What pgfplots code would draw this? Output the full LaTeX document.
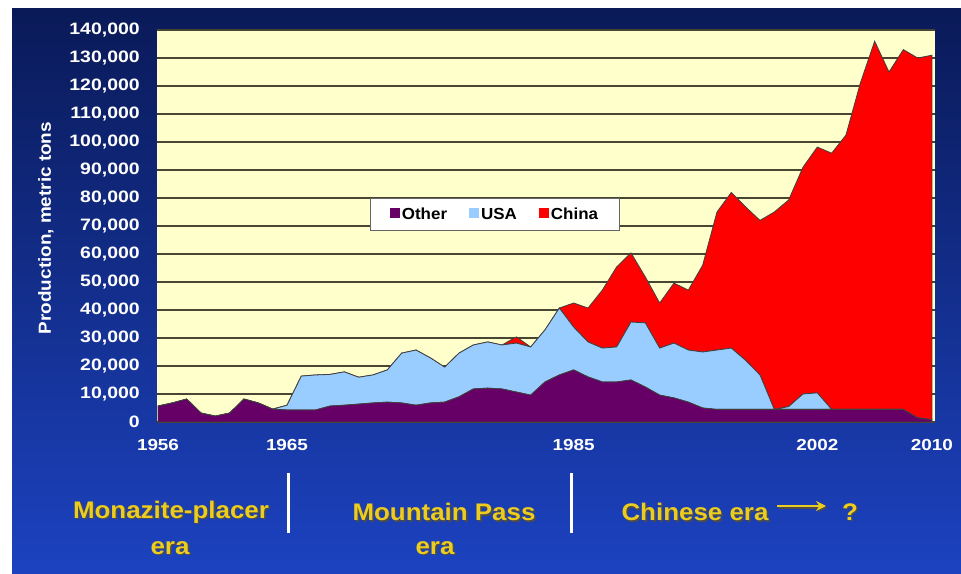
\documentclass[border=0pt]{standalone}
\usepackage{fontspec}
\setmainfont{Liberation Sans}
\newfontfamily\tickfont[FakeStretch=1.18]{Liberation Sans}
\newfontfamily\erafont[FakeStretch=1.08]{Liberation Sans}
\newfontfamily\legfont[FakeStretch=1.06]{Liberation Sans}
\usepackage{pgfplots}
\usepackage{pgfplotstable}
\pgfplotsset{compat=1.18}
\usetikzlibrary{arrows.meta}

\definecolor{bgtop}{RGB}{10,26,88}
\definecolor{bgmid}{RGB}{20,52,160}
\definecolor{bgbot}{RGB}{28,66,192}
\definecolor{plotbg}{RGB}{255,255,204}
\definecolor{gridc}{RGB}{70,70,50}
\definecolor{otherc}{RGB}{102,0,102}
\definecolor{usac}{RGB}{153,204,255}
\definecolor{chinac}{RGB}{255,0,0}
\definecolor{erac}{RGB}{236,204,28}

% rare earth production, metric tons
\pgfplotstableread{
year other usa china
1956 5700 0 0
1957 6800 0 0
1958 8200 0 0
1959 3200 0 0
1960 2100 0 0
1961 3200 0 0
1962 8200 0 0
1963 6800 0 0
1964 4600 0 0
1965 4300 1700 0
1966 4300 12100 0
1967 4300 12500 0
1968 5700 11300 0
1969 6000 11900 0
1970 6400 9600 0
1971 6800 10000 0
1972 7100 11500 0
1973 6800 17800 0
1974 6000 19700 0
1975 6800 16100 0
1976 7100 12500 0
1977 9000 15600 0
1978 11800 15700 0
1979 12100 16500 0
1980 11800 15700 0
1981 10700 17500 2200
1982 9600 17200 0
1983 14300 18600 0
1984 16800 23900 0
1985 18600 15300 8600
1986 16100 12500 12100
1987 14300 12100 20700
1988 14300 12500 28600
1989 15000 20700 24700
1990 12500 22900 16400
1991 9600 16800 16100
1992 8600 19600 21400
1993 7100 18600 21400
1994 5000 20000 31000
1995 4500 21200 49300
1996 4500 21900 55600
1997 4500 17500 54800
1998 4500 12300 55200
1999 4500 0 70500
2000 4500 1000 73800
2001 4500 5500 81000
2002 4500 5900 87800
2003 4500 0 91500
2004 4500 0 98000
2005 4500 0 116500
2006 4500 0 131500
2007 4500 0 120500
2008 4500 0 128500
2009 1500 0 128500
2010 800 0 130200
}\prodtable

\begin{document}
\begin{tikzpicture}
% page and slide background
\fill[white] (0pt,0pt) rectangle (961pt,573pt);
\shade[top color=bgtop, middle color=bgmid, bottom color=bgbot]
    (12pt,0pt) rectangle (961pt,564pt);

\begin{axis}[
    at={(157pt,151pt)}, anchor=south west,
    scale only axis,
    width=778pt, height=393pt,
    xmin=1955.93, xmax=2010.21,
    ymin=0, ymax=140360,
    stack plots=y,
    axis line style={draw=none},
    axis background/.style={fill=plotbg},
    major tick length=0pt,
    xtick={1956,1965,1985,2002,2010},
    xticklabels={1956,1965,1985,2002,2010},
    ytick={0,10000,...,140000},
    scaled y ticks=false,
    /pgf/number format/.cd, fixed, 1000 sep={,}, assume math mode=true,
    /pgfplots/.cd,
    ymajorgrids=true,
    grid style={gridc, line width=1.1pt},
    yticklabel style={font=\tickfont\bfseries\fontsize{16.5}{18}\selectfont,
        text=white, anchor=east, inner sep=0pt, xshift=-17pt},
    xticklabel style={font=\tickfont\bfseries\fontsize{16}{18}\selectfont,
        text=white, anchor=north, inner sep=0pt, yshift=-17pt},
    ylabel={Production, metric tons},
    every axis y label/.style={at={(axis description cs:-0.1427,0.4936)},
        rotate=90, anchor=center,
        font=\erafont\bfseries\fontsize{17.5}{19}\selectfont, text=white},
    legend columns=3,
    legend style={at={(axis description cs:0.4344,0.528)}, anchor=center,
        draw=black!60, fill=white, line width=0.8pt,
        inner xsep=19pt, inner ysep=7.5pt,
        font=\legfont\bfseries\fontsize{16}{17}\selectfont,
        /tikz/every even column/.append style={column sep=20pt}},
    legend image code/.code={\fill[#1,draw=none] (0pt,-4pt) rectangle (10pt,6pt);},
    area edge/.style={draw=black!75, line width=0.8pt},
]
\addplot[fill=otherc, area edge] table[x=year, y=other] {\prodtable} \closedcycle;
\addplot[fill=usac, area edge] table[x=year, y=usa] {\prodtable} \closedcycle;
\addplot[fill=chinac, area edge] table[x=year, y=china] {\prodtable} \closedcycle;
\legend{Other,USA,China}
\end{axis}

% era separators
\draw[white, line width=3pt] (288pt,40pt) -- (288pt,100pt);
\draw[white, line width=3pt] (571pt,40pt) -- (571pt,100pt);

% era labels with a dark shadow
\begin{scope}[every node/.style={font=\erafont\bfseries\fontsize{24}{26}\selectfont, inner sep=0pt}]
\foreach \dx/\dy/\c in {1.6pt/-1.6pt/black!70, 0pt/0pt/erac} {
  \begin{scope}[shift={(\dx,\dy)}]
    \node[text=\c] at (171pt,61pt) {Monazite-placer};
    \node[text=\c] at (170pt,25pt) {era};
    \node[text=\c] at (444pt,61pt) {Mountain Pass};
    \node[text=\c] at (435pt,25pt) {era};
    \node[text=\c] at (695pt,61pt) {Chinese era};
    \node[text=\c] at (850pt,61pt) {?};
    \draw[\c, line width=2.4pt, -{Stealth[length=10pt,width=10pt]}] (777pt,67pt) -- (826pt,67pt);
  \end{scope}
}
\end{scope}
\end{tikzpicture}
\end{document}
